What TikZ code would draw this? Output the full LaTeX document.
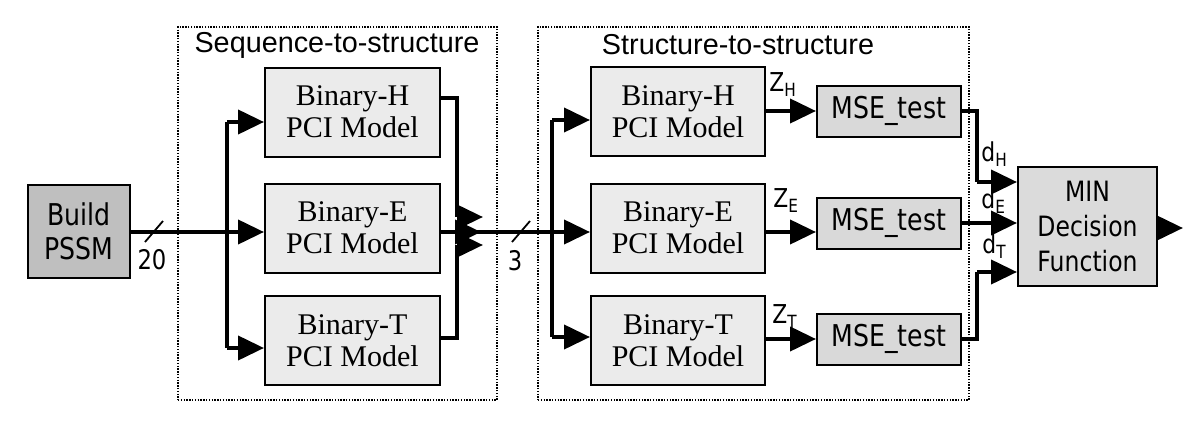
\documentclass[tikz,border=0pt]{standalone}
\usepackage{fontspec}
\setmainfont{Liberation Serif}
\newfontfamily\tah[FakeStretch=0.84]{DejaVu Sans}
\newfontfamily\ari{Liberation Sans}
\usetikzlibrary{arrows.meta}
\begin{document}
\begin{tikzpicture}[x=0.5pt,y=-0.5pt,
  wire/.style={line width=2pt},
  arr/.style={line width=2pt,-{Triangle[length=13pt,width=12pt]}},
  binbox/.style={draw,line width=1pt,fill=black!8,minimum width=87.5pt,minimum height=44.5pt,inner sep=0pt,align=center,font=\fontsize{15}{16}\selectfont},
  msebox/.style={draw,line width=1pt,fill=black!15,minimum width=72pt,minimum height=25.5pt,inner sep=0pt,font=\tah\fontsize{15}{17}\selectfont},
  dotbox/.style={draw,line width=0.8pt,dash pattern=on 0.7pt off 0.7pt,inner sep=0pt},
  title/.style={font=\ari\fontsize{14.4}{16}\selectfont,inner sep=0pt},
  lab/.style={font=\tah\fontsize{13}{14}\selectfont,inner sep=0pt},
]
\useasboundingbox (0,0) rectangle (1200,428);
% group frames
\node[dotbox,minimum width=159.5pt,minimum height=186.5pt] (seqframe) at (337.5,213.5) {};
\node[dotbox,minimum width=215.5pt,minimum height=186.5pt] (strframe) at (753.5,213.5) {};
\node[title] (seqtitle) at (337,45) {Sequence-to-structure};
\node[title] (strtitle) at (738,45) {Structure-to-structure};

% boxes
\node[draw,line width=1pt,fill=black!25,minimum width=51pt,minimum height=46.5pt,inner sep=0pt,align=center,font=\tah\fontsize{15}{17}\selectfont] (pssm) at (79,231.5) {Build\\PSSM};
\node[binbox] (sH) at (352.5,112) {Binary-H\\PCI Model};
\node[binbox] (sE) at (352.5,228) {Binary-E\\PCI Model};
\node[binbox] (sT) at (352.5,340.5) {Binary-T\\PCI Model};
\node[binbox,minimum width=87pt] (tH) at (678,111.5) {Binary-H\\PCI Model};
\node[binbox,minimum width=87pt] (tE) at (678,228) {Binary-E\\PCI Model};
\node[binbox,minimum width=87pt] (tT) at (678,340.5) {Binary-T\\PCI Model};
\node[msebox] (mH) at (889,111) {MSE\_test};
\node[msebox] (mE) at (889,223) {MSE\_test};
\node[msebox] (mT) at (889,339) {MSE\_test};
\node[draw,line width=1pt,fill=black!14,minimum width=69.5pt,minimum height=59.5pt,inner sep=0pt,align=center,font=\tah\fontsize{14}{17.5}\selectfont] (mn) at (1087.5,226.5) {MIN\\Decision\\Function};

% junction coordinates
\coordinate (a0) at (227,232);
\coordinate (aH) at (227,122);
\coordinate (aT) at (227,348);
\coordinate (bH) at (457,98);
\coordinate (bH2) at (457,217);
\coordinate (bT) at (457,338);
\coordinate (bT2) at (457,245);
\coordinate (bE) at (458,232);
\coordinate (c0) at (552,232);
\coordinate (cH) at (552,120);
\coordinate (cT) at (552,337);
\coordinate (dH) at (977,111);
\coordinate (dH2) at (977,182);
\coordinate (dT) at (977,339);
\coordinate (dT2) at (977,272);
\coordinate (out) at (1183,228);

% input fan-out
\draw[wire] (pssm.east |- a0) -- (a0);
\draw[wire] (aH) -- (aT);
\draw[arr] (aH) -- (aH -| sH.west);
\draw[arr] (a0) -- (a0 -| sE.west);
\draw[arr] (aT) -- (aT -| sT.west);
\draw[line width=0.9pt] (145,242) -- (163,221);
\node[lab,font=\tah\fontsize{13.5}{14}\selectfont] (n20) at (152,260) {20};

% seq outputs merge
\draw[wire] (sH.east |- bH) -- (bH) -- (bH2);
\draw[arr] (bH2) -- ++(26,0);
\draw[wire] (sT.east |- bT) -- (bT) -- (bT2);
\draw[arr] (bT2) -- ++(26,0);
\draw[arr] (sE.east |- bE) -- (481,232);
\draw[wire] (bE) -- (c0);
\draw[line width=0.9pt] (512,242) -- (530,221);
\node[lab,font=\tah\fontsize{13.5}{14}\selectfont] (n3) at (515,261) {3};

% struct fan-out
\draw[wire] (cH) -- (cT);
\draw[arr] (c0) -- (c0 -| tE.west);
\draw[arr] (cH) -- (cH -| tH.west);
\draw[arr] (cT) -- (cT -| tT.west);

% z arrows
\draw[arr] (tH.east |- mH) -- (mH.west);
\draw[arr] (tE.east |- 0,232) -- (mE.west |- 0,232);
\draw[arr] (tT.east |- mT) -- (mT.west);
\node[lab,anchor=south west] (zH) at (769,97) {Z\textsubscript{H}};
\node[lab,anchor=south west] (zE) at (773,213) {Z\textsubscript{E}};
\node[lab,anchor=south west] (zT) at (772,329) {Z\textsubscript{T}};

% outputs to MIN
\draw[wire] (mH.east) -- (dH) -- (dH2);
\draw[arr] (dH2) -- (dH2 -| mn.west);
\draw[arr] (mE.east) -- (mE.east -| mn.west);
\draw[wire] (mT.east) -- (dT) -- (dT2);
\draw[arr] (dT2) -- (dT2 -| mn.west);
\node[lab,anchor=south west] (dlH) at (981,167) {d\textsubscript{H}};
\node[lab,anchor=south west] (dlE) at (981,214) {d\textsubscript{E}};
\node[lab,anchor=south west] (dlT) at (982,259) {d\textsubscript{T}};
\draw[arr] (mn.east |- out) -- (out);
\end{tikzpicture}
\end{document}
